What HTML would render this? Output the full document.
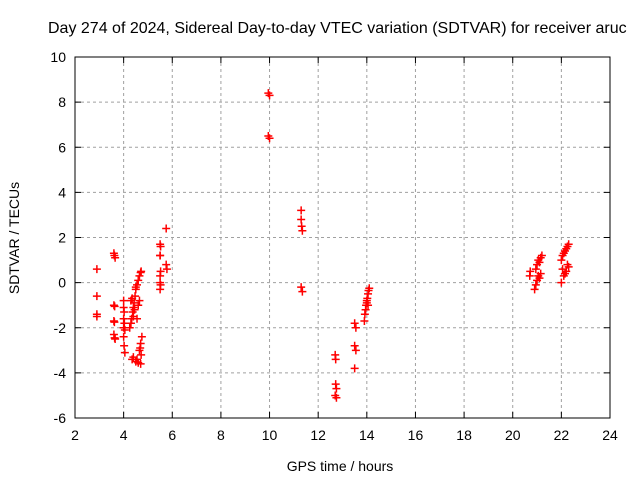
<!DOCTYPE html>
<html><head><meta charset="utf-8"><style>
body{margin:0;background:#fff}
svg text{font-family:"Liberation Sans",sans-serif;font-size:14px;fill:#000}
</style></head><body>
<svg id="c" width="640" height="480"></svg>
<script>
const xTicks=[2,4,6,8,10,12,14,16,18,20,22,24];
const yTicks=[-6,-4,-2,0,2,4,6,8,10];
const hours=[2.9,2.9,2.9,2.9,
3.6,3.62,3.65,3.6,3.63,3.6,3.62,3.6,3.63,3.65,
4.0,4.0,4.02,4.0,4.03,4.0,4.05,4.0,4.02,4.05,
4.25,4.3,4.33,4.37,4.4,4.43,4.47,4.5,4.55,4.6,4.65,4.7,4.72,4.3,4.35,4.4,4.45,4.5,4.55,4.6,4.65,
4.35,4.4,4.5,4.55,4.6,4.7,4.65,4.7,4.75,4.72,4.68,
5.5,5.52,5.5,5.5,5.52,5.5,5.5,5.52,5.5,5.75,5.75,5.78,
9.95,10.0,9.95,10.0,
11.3,11.3,11.32,11.35,11.3,11.35,
12.7,12.72,12.72,12.75,12.7,12.75,
13.5,13.55,13.5,13.55,13.5,
13.9,13.92,13.95,13.97,14.0,14.02,14.05,14.07,14.1,14.0,14.05,
20.7,20.72,20.9,20.95,21.0,21.05,21.1,21.15,21.2,21.0,21.05,21.1,21.15,20.95,
22.0,22.05,22.1,22.15,22.2,22.25,22.3,22.0,22.1,22.2,22.3,22.05,22.15,22.25];
const values=[0.6,-0.6,-1.4,-1.5,
1.3,1.2,1.1,-1.0,-1.05,-1.7,-1.75,-2.3,-2.45,-2.5,
-0.8,-1.1,-1.3,-1.6,-1.8,-2.0,-2.1,-2.4,-2.8,-3.1,
-2.0,-1.8,-1.6,-1.3,-1.1,-0.9,-0.6,-0.3,-0.1,0.1,0.3,0.45,0.5,-0.8,-0.7,-1.5,-1.2,-0.2,-1.6,-1.0,-0.8,
-3.4,-3.3,-3.5,-3.4,-3.55,-3.6,-3.0,-2.7,-2.4,-3.2,-2.9,
1.7,1.6,1.2,1.2,0.5,0.3,0.0,-0.1,-0.3,2.4,0.8,0.6,
8.4,8.3,6.5,6.4,
3.2,2.8,2.5,2.3,-0.2,-0.4,
-3.2,-3.4,-4.5,-4.7,-5.0,-5.1,
-1.8,-2.0,-2.8,-3.0,-3.8,
-1.7,-1.4,-1.2,-1.0,-0.9,-0.7,-0.5,-0.35,-0.25,-0.8,-1.0,
0.3,0.5,-0.3,-0.1,0.1,0.3,0.9,1.1,1.2,0.8,1.0,0.2,0.4,0.6,
1.0,1.2,1.3,1.4,1.5,1.6,1.7,0.0,0.3,0.5,0.7,0.6,0.4,0.8];
const NS='http://www.w3.org/2000/svg';
const svg=document.getElementById('c');
const L=75,R=610,T=57,B=418;
const sx=v=>L+(v-2)/22*(R-L);
const sy=v=>B-(v+6)/16*(B-T);
function el(t,a,p){const e=document.createElementNS(NS,t);for(const k in a)e.setAttribute(k,a[k]);(p||svg).appendChild(e);return e;}
const grid=el('g',{});


xTicks.forEach(t=>{
 if(t>2&&t<24){el('line',{x1:sx(t),x2:sx(t),y1:T,y2:B,stroke:'#a0a0a0','stroke-dasharray':'3,3'},grid);}
 el('line',{x1:sx(t),x2:sx(t),y1:B,y2:B-6,stroke:'#000'});el('line',{x1:sx(t),x2:sx(t),y1:T,y2:T+6,stroke:'#000'});
 const tx=el('text',{x:sx(t),y:B+22,'text-anchor':'middle'});tx.textContent=t;
 
 
});
yTicks.forEach(t=>{
 if(t>-6&&t<10){el('line',{x1:L,x2:R,y1:sy(t),y2:sy(t),stroke:'#a0a0a0','stroke-dasharray':'3,3'},grid);}
 el('line',{x1:L,x2:L+6,y1:sy(t),y2:sy(t),stroke:'#000'});el('line',{x1:R,x2:R-6,y1:sy(t),y2:sy(t),stroke:'#000'});
 const tx=el('text',{x:L-9,y:sy(t)+5,'text-anchor':'end'});tx.textContent=t;
 
 
});
const frame=el('rect',{x:L,y:T,width:R-L,height:B-T,fill:'none',stroke:'#000'});


const pts=el('g',{stroke:'#ff0000','stroke-width':1.5});


hours.forEach((h,i)=>{
 const x=sx(h),y=sy(values[i]);
 const p=el('path',{d:`M${x-4},${y}H${x+4}M${x},${y-4}V${y+4}`},pts);
 
 
});
const title=el('text',{x:48,y:33,style:'font-size:16px'});title.textContent='Day 274 of 2024, Sidereal Day-to-day VTEC variation (SDTVAR) for receiver aruc';


const xl=el('text',{x:340,y:471,'text-anchor':'middle'});xl.textContent='GPS time / hours';


const yl=el('text',{x:0,y:0,'text-anchor':'middle',transform:'translate(19,238) rotate(-90)'});yl.textContent='SDTVAR / TECUs';


</script>
</body></html>
